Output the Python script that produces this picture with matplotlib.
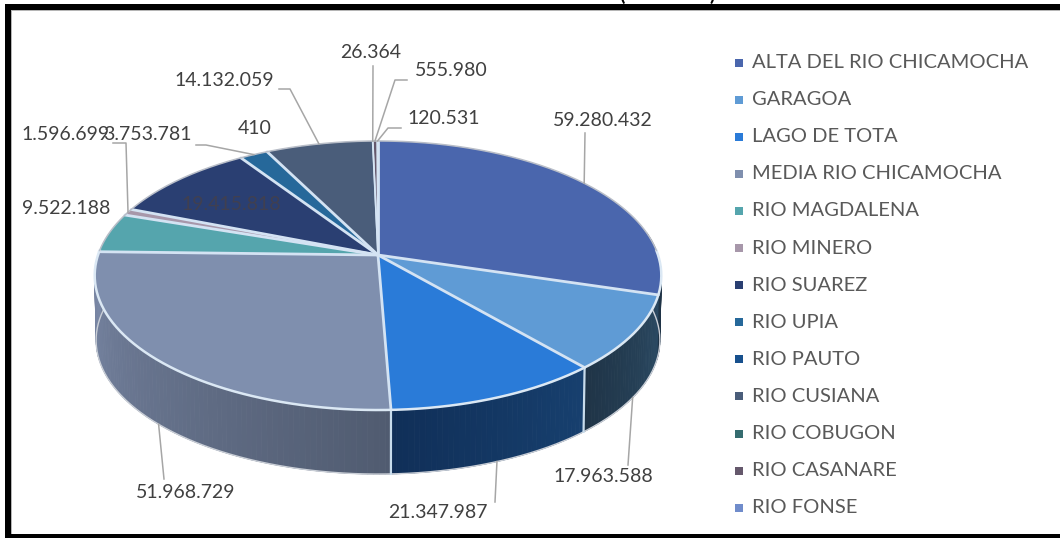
import numpy as np
import matplotlib
matplotlib.use("Agg")
import matplotlib.pyplot as plt
from matplotlib.patches import Rectangle, Polygon

categories = ["ALTA DEL RIO CHICAMOCHA", "GARAGOA", "LAGO DE TOTA", "MEDIA RIO CHICAMOCHA",
              "RIO MAGDALENA", "RIO MINERO", "RIO SUAREZ", "RIO UPIA", "RIO PAUTO",
              "RIO CUSIANA", "RIO COBUGON", "RIO CASANARE", "RIO FONSE"]
values = [59280432, 17963588, 21347987, 51968729, 9522188, 1596699, 19415818,
          3753781, 410, 14132059, 26364, 555980, 120531]
value_labels = ["59.280.432", "17.963.588", "21.347.987", "51.968.729", "9.522.188", "1.596.699",
                "19.415.818", "3.753.781", "410", "14.132.059", "26.364", "555.980", "120.531"]
colors = ["#4a66ad", "#5f9bd5", "#2a7bd8", "#7f8fae", "#55a5ad", "#a797aa", "#2a3f72",
          "#26689a", "#17508d", "#4a5d7a", "#356c6f", "#65586c", "#708ccb"]
side_left = {0: "#1f3040", 1: "#2b4a63", 2: "#17406f", 3: "#505b70"}
side_right = {0: "#1f3447", 1: "#1f3447", 2: "#102f58", 3: "#7a88a6"}

plt.rcParams["font.family"] = ["Lato", "DejaVu Sans"]
TXT = "#404040"
FS = 14.0
FS_LEG = 14.5

fig = plt.figure(figsize=(10.6, 5.38), dpi=100)
ax = fig.add_axes([0, 0, 1, 1])
ax.set_xlim(0, 1060)
ax.set_ylim(538, 0)
ax.axis("off")

CX, CY, A, B, K = 378.0, 255.0, 280.0, 131.4, 0.1524
SCALE, CY2 = 0.995, 319.8


def top(theta):
    u, v = np.sin(theta), np.cos(theta)
    w = 1 + K * v
    return CX + A * u / w, CY - B * v / w


def bottom(theta):
    u, v = np.sin(theta), np.cos(theta)
    w = 1 + K * v
    return CX + SCALE * A * u / w, CY2 - SCALE * B * v / w


vals = np.array(values, dtype=float)
edges = np.concatenate([[0], np.cumsum(vals) / vals.sum() * 2 * np.pi])
mids = (edges[:-1] + edges[1:]) / 2


def mix(c1, c2, t):
    a = np.array(matplotlib.colors.to_rgb(c1))
    b = np.array(matplotlib.colors.to_rgb(c2))
    return tuple(a + (b - a) * t)


# side wall, painted as thin gradient strips
for i in range(len(vals)):
    if i not in side_left:
        continue
    a0, a1 = edges[i], edges[i + 1]
    lo, hi = max(a0, np.radians(80)), min(a1, np.radians(278))
    if hi <= lo:
        continue
    n = max(2, int(np.degrees(hi - lo)))
    th = np.linspace(lo, hi, n + 1)
    for j in range(n):
        t = (j + 0.5) / n
        x0, y0 = top(th[j]); x1, y1 = top(th[j + 1])
        x2, y2 = bottom(th[j + 1]); x3, y3 = bottom(th[j])
        c = mix(side_left[i], side_right[i], t)
        ax.add_patch(Polygon([(x0, y0), (x1, y1), (x2, y2), (x3, y3)], closed=True,
                             facecolor=c, edgecolor=c, lw=0.6, zorder=2))

# silhouette of the base
th = np.linspace(np.radians(85), np.radians(275), 200)
bx, by = bottom(th)
ax.plot(bx, by, color="#c9ced6", lw=1.0, zorder=3)

# light edges between the wall segments
for e in edges[2:4]:
    x0, y0 = top(e); x1, y1 = bottom(e)
    ax.plot([x0, x1], [y0, y1], color="#c8dcec", lw=1.6, zorder=3)

# top face
for i in range(len(vals)):
    th = np.linspace(edges[i], edges[i + 1], max(2, int(np.degrees(edges[i + 1] - edges[i])) + 2))
    x, y = top(th)
    pts = [(CX, CY)] + list(zip(x, y))
    ax.add_patch(Polygon(pts, closed=True, facecolor=colors[i], edgecolor="none", zorder=4))

for i, e in enumerate(edges[:-1]):
    if values[i] < 1000:
        continue
    x, y = top(e)
    lw = 2.0 if i not in (10, 11, 12) else 1.2
    ax.plot([CX, x], [CY, y], color="#d4e3f3", lw=lw, zorder=5, solid_capstyle="round")

th = np.linspace(np.radians(88), np.radians(272), 200)
ax.plot(*top(th), color="#dbe8f4", lw=1.8, zorder=6)
th = np.linspace(np.radians(272), np.radians(448), 200)
ax.plot(*top(th), color="#b9bec8", lw=1.1, zorder=6)

# leader lines: elbows in picture coordinates, ends on the pie edge
GREY = "#a6a6a6"
leaders = {
    0: ([(585, 133)], top),
    1: ([(628, 465)], bottom),
    2: ([(495, 502)], bottom),
    3: ([(164, 479)], bottom),
    5: ([(113, 143), (126, 143)], top),
    7: ([(196, 145), (206, 145)], top),
    9: ([(279, 89), (290, 89)], top),
    10: ([(373, 66)], top),
    11: ([(407, 80), (395, 80)], top),
    12: ([(401, 128), (388, 128)], top),
}
for i, (pts, fn) in leaders.items():
    ex, ey = fn(mids[i])
    xs = [p[0] for p in pts] + [ex]
    ys = [p[1] for p in pts] + [ey]
    ax.plot(xs, ys, color=GREY, lw=1.1, zorder=7)

# value labels (centre positions)
label_pos = [(603, 121), (603, 477), (438, 512), (186, 493), (66, 209), (66, 134),
             (231, 205), (147, 135), (255, 129), (224, 81), (371, 52), (451, 71), (444, 118)]
for i, (txt, (x, y)) in enumerate(zip(value_labels, label_pos)):
    ax.text(x, y, txt, ha="center", va="center", fontsize=FS,
            color="#403f50" if i == 6 else TXT, zorder=8)

# legend
LEG_Y0, LEG_DY = 62.5, 37.1
for i, (name, col) in enumerate(zip(categories, colors)):
    y = LEG_Y0 + i * LEG_DY
    ax.add_patch(Rectangle((735, y - 4), 8, 8, facecolor=col, edgecolor="none", zorder=8))
    ax.text(752, y, name, ha="left", va="center", fontsize=FS_LEG, color="#595959", zorder=8)

# clipped title remnants and frame
ax.text(622, 4, "(", ha="center", va="bottom", fontsize=14, fontweight="bold", color="black", zorder=9, clip_on=True)
ax.text(712, 4, ")", ha="center", va="bottom", fontsize=14, fontweight="bold", color="black", zorder=9, clip_on=True)
for (x, y, w, h) in [(5, 4, 1055, 6), (5, 4, 6, 534), (5, 534, 1055, 4)]:
    ax.add_patch(Rectangle((x, y), w, h, facecolor="black", edgecolor="none", zorder=10))
ax.add_patch(Rectangle((11, 10), 1049, 1, facecolor="#b5b5b5", edgecolor="none", zorder=10))
ax.add_patch(Rectangle((11, 10), 1, 524, facecolor="#b5b5b5", edgecolor="none", zorder=10))

fig.savefig("out.png", dpi=100)
